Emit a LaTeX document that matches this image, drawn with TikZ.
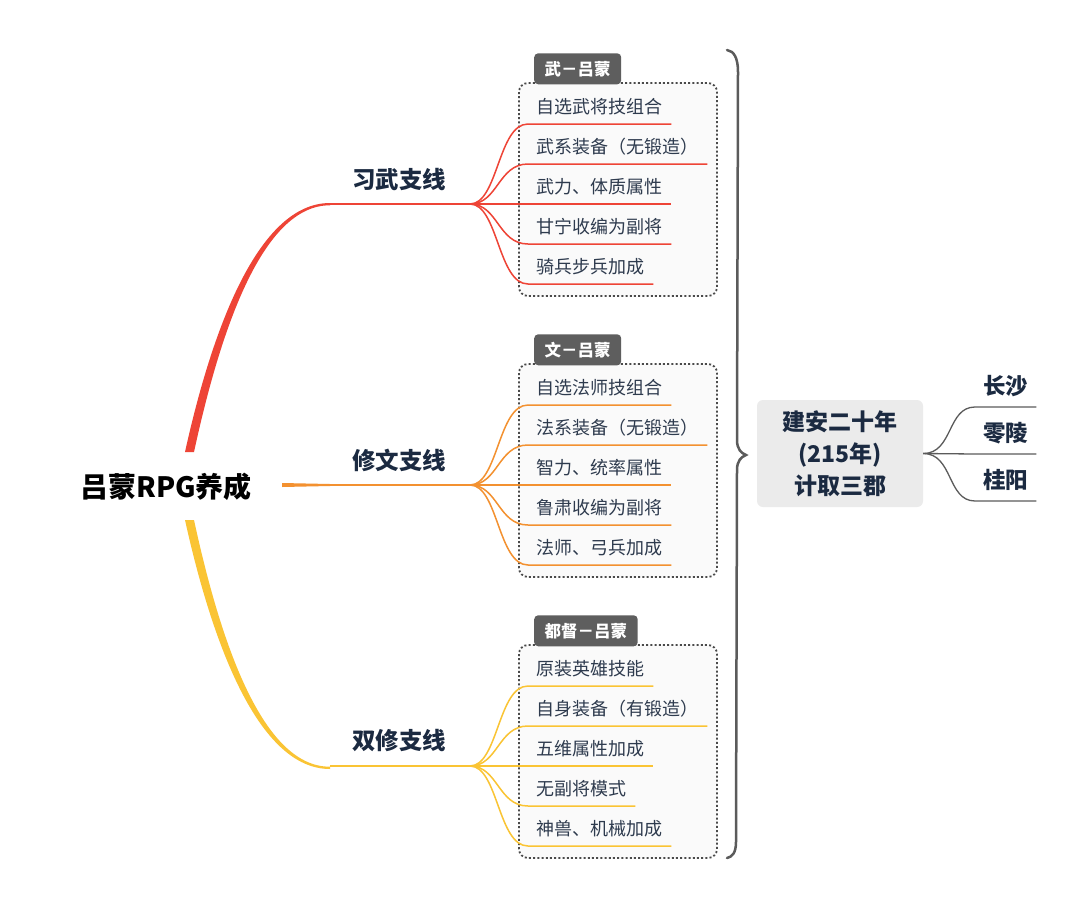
\documentclass[tikz,border=0pt]{standalone}
\usepackage{fontspec}
\setmainfont{Noto Sans CJK SC}
\usetikzlibrary{positioning}
\definecolor{wured}{HTML}{EE4436}
\definecolor{wenorange}{HTML}{F39130}
\definecolor{shuangyellow}{HTML}{FAC434}
\definecolor{ink}{HTML}{1B2A41}
\definecolor{itemink}{HTML}{2E3B4E}
\definecolor{tabgrey}{HTML}{5E5E5E}
\definecolor{boxline}{HTML}{4A4A4A}
\definecolor{boxfill}{HTML}{FAFAFA}
\definecolor{hubfill}{HTML}{EBEBEB}
\definecolor{mute}{HTML}{5B5B5B}

\begin{document}
\begin{tikzpicture}[x=1pt,y=-1pt,
    item/.style={anchor=south west,inner xsep=8.5pt,inner ysep=0pt,text height=15pt,text depth=10pt,text=itemink,font=\fontsize{18}{20}\selectfont},
    branch/.style={text=ink,font=\bfseries\fontsize{23.5}{26}\selectfont},
    tab/.style={anchor=south west,fill=tabgrey,text=white,rounded corners=4pt,inner xsep=10.5pt,inner ysep=0pt,minimum height=31pt,font=\bfseries\fontsize{16.5}{18}\selectfont},
    grpbox/.style={draw=boxline,fill=boxfill,line width=1.8pt,dash pattern=on 2pt off 2.2pt,rounded corners=9pt},
    hub/.style={fill=hubfill,rounded corners=6pt,minimum width=166pt,minimum height=107pt,align=center,text=ink,font=\bfseries\fontsize{23}{32}\selectfont},
    city/.style={anchor=south west,inner xsep=8pt,inner ysep=0pt,text height=18pt,text depth=12.5pt,text=ink,font=\bfseries\fontsize{22.5}{25}\selectfont},
    twig/.style={line width=1.5pt},
    cityline/.style={mute,line width=1.3pt}]
  \fill[white] (0,0) rectangle (1087,908);
  \useasboundingbox (0,0) rectangle (1087,908);

  % dashed group boxes and their tabs
  \draw[grpbox] (519,83) rectangle (717,296);
  \draw[grpbox] (519,364) rectangle (717,577);
  \draw[grpbox] (519,645) rectangle (717,858);
  \node[tab] (wutab) at (534,84.5) {武－吕蒙};
  \node[tab] (wentab) at (534,365.5) {文－吕蒙};
  \node[tab] (dutab) at (534,646.5) {都督－吕蒙};

  % root and main branches
  \node[font=\bfseries\fontsize{28}{30}\selectfont] (root) at (166,487) {吕蒙RPG养成};
  \fill[wured] (185,452) .. controls (212,330) and (258,203) .. (330,203) -- (330,205.3) .. controls (262,205) and (220,332) .. (194,452) -- cycle;
  \fill[wenorange] (282,483) -- (330,484) -- (330,486) -- (282,487) -- cycle;
  \fill[shuangyellow] (185,520) .. controls (212,642) and (258,769) .. (330,769) -- (330,766.7) .. controls (262,767) and (220,640) .. (194,520) -- cycle;

  \coordinate (wubend) at (330,204);
  \coordinate (wu) at (470,204);
  \coordinate (wenbend) at (330,485);
  \coordinate (wen) at (470,485);
  \coordinate (shuangbend) at (330,766);
  \coordinate (shuang) at (470,766);
  \draw[wured,twig] (wubend) -- (wu);
  \draw[wenorange,twig] (wenbend) -- (wen);
  \draw[shuangyellow,twig] (shuangbend) -- (shuang);

  \node[branch] (xiwu) at (399,180) {习武支线};
  \node[branch] (xiuwen) at (399,460) {修文支线};
  \node[branch] (shuangxiu) at (399,741) {双修支线};

  % wu group
  \node[item] (a1) at (528,124) {自选武将技组合};
  \node[item] (a2) at (528,164) {武系装备（无锻造）};
  \node[item] (a3) at (528,204) {武力、体质属性};
  \node[item] (a4) at (528,244) {甘宁收编为副将};
  \node[item] (a5) at (528,284) {骑兵步兵加成};
  \draw[wured,twig] (wu) .. controls +(28,0) and +(-30,0) .. (a1.south west) -- (a1.south east);
  \draw[wured,twig] (wu) .. controls +(28,0) and +(-30,0) .. (a2.south west) -- (a2.south east);
  \draw[wured,twig] (wu) -- (a3.south west) -- (a3.south east);
  \draw[wured,twig] (wu) .. controls +(28,0) and +(-30,0) .. (a4.south west) -- (a4.south east);
  \draw[wured,twig] (wu) .. controls +(28,0) and +(-30,0) .. (a5.south west) -- (a5.south east);

  % wen group
  \node[item] (b1) at (528,405) {自选法师技组合};
  \node[item] (b2) at (528,445) {法系装备（无锻造）};
  \node[item] (b3) at (528,485) {智力、统率属性};
  \node[item] (b4) at (528,525) {鲁肃收编为副将};
  \node[item] (b5) at (528,565) {法师、弓兵加成};
  \draw[wenorange,twig] (wen) .. controls +(28,0) and +(-30,0) .. (b1.south west) -- (b1.south east);
  \draw[wenorange,twig] (wen) .. controls +(28,0) and +(-30,0) .. (b2.south west) -- (b2.south east);
  \draw[wenorange,twig] (wen) -- (b3.south west) -- (b3.south east);
  \draw[wenorange,twig] (wen) .. controls +(28,0) and +(-30,0) .. (b4.south west) -- (b4.south east);
  \draw[wenorange,twig] (wen) .. controls +(28,0) and +(-30,0) .. (b5.south west) -- (b5.south east);

  % shuang group
  \node[item] (c1) at (528,686) {原装英雄技能};
  \node[item] (c2) at (528,726) {自身装备（有锻造）};
  \node[item] (c3) at (528,766) {五维属性加成};
  \node[item] (c4) at (528,806) {无副将模式};
  \node[item] (c5) at (528,846) {神兽、机械加成};
  \draw[shuangyellow,twig] (shuang) .. controls +(28,0) and +(-30,0) .. (c1.south west) -- (c1.south east);
  \draw[shuangyellow,twig] (shuang) .. controls +(28,0) and +(-30,0) .. (c2.south west) -- (c2.south east);
  \draw[shuangyellow,twig] (shuang) -- (c3.south west) -- (c3.south east);
  \draw[shuangyellow,twig] (shuang) .. controls +(28,0) and +(-30,0) .. (c4.south west) -- (c4.south east);
  \draw[shuangyellow,twig] (shuang) .. controls +(28,0) and +(-30,0) .. (c5.south west) -- (c5.south east);

  % brace
  \coordinate (brtop) at (727,50);
  \coordinate (brtip) at (746,455);
  \coordinate (brbot) at (727,858);
  \draw[mute,line width=2.5pt,line cap=round] (brtop) .. controls (734,51) and (738,58) .. (738,72) -- (737,440) .. controls (737,449) and (741,453) .. (brtip) .. controls (741,457) and (737,461) .. (737,470) -- (736,842) .. controls (736,853) and (732,857) .. (brbot);

  % summary topic
  \node[hub] (jianan) at (840,453.5) {建安二十年\\(215年)\\计取三郡};
  \node[city] (changsha) at (975,407) {长沙};
  \node[city] (lingling) at (975,454) {零陵};
  \node[city] (guiyang) at (975,501) {桂阳};
  \draw[cityline] (jianan.east) .. controls +(30,0) and +(-28,0) .. (changsha.south west) -- (changsha.south east);
  \draw[cityline] (jianan.east) -- (lingling.south west) -- (lingling.south east);
  \draw[cityline] (jianan.east) .. controls +(30,0) and +(-28,0) .. (guiyang.south west) -- (guiyang.south east);
\end{tikzpicture}
\end{document}
